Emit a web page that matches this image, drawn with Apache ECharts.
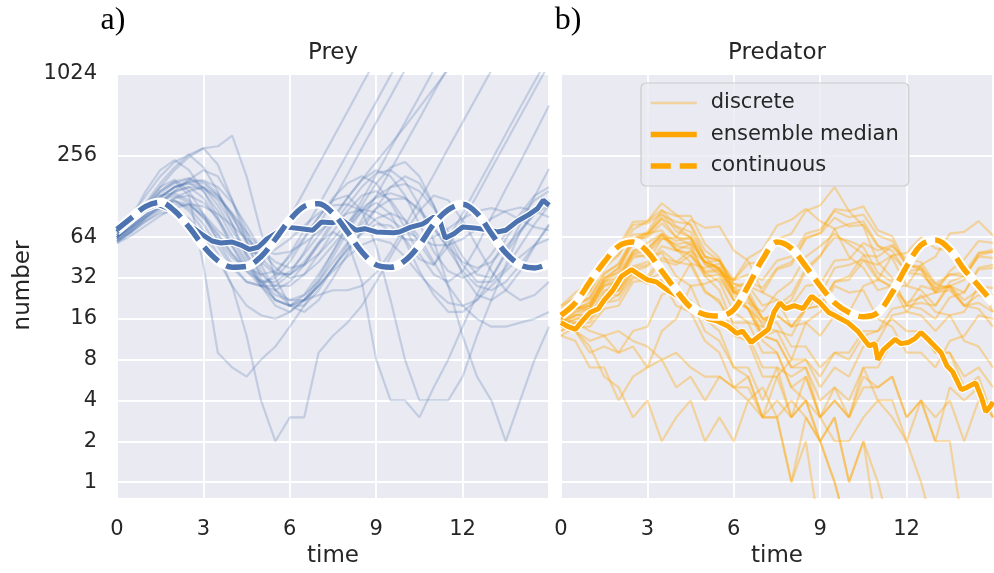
<!DOCTYPE html>
<html>
<head>
<meta charset="utf-8">
<script src="https://cdn.jsdelivr.net/npm/echarts@6/dist/echarts.min.js"></script>
<style>
  html, body { margin: 0; padding: 0; background: #fff; }
  #main { width: 994px; height: 573px; }
</style>
</head>
<body>
<div id="main"></div>
<script>
// sample times of the discrete runs and the continuous curves
const times = [0, 0.5, 1, 1.5, 2, 2.5, 3, 3.5, 4, 4.5, 5, 5.5, 6, 6.5, 7, 7.5,
  8, 8.5, 9, 9.5, 10, 10.5, 11, 11.5, 12, 12.5, 13, 13.5, 14, 14.5, 15]
const xTicks = [0, 3, 6, 9, 12]
const yTicks = [1, 2, 4, 8, 16, 32, 64, 256, 1024]

// prey, discrete runs
const preyRuns = [
  [64,82,112,150,170,140,95,60,40,30,28,34,48,72,110,170,265,410,640,1000,1560],
  [62,75,96,120,130,115,88,62,45,38,40,58,90,140,220,345,540,850,1320],
  [66,90,130,180,230,260,210,140,80,45,28,20,18,22,32,50,78,120,185,290,450,700,1100],
  [60,72,90,110,140,170,200,180,120,70,40,26,20,20,26,38,56,86,130,200,310,480,750,1160],
  [64,78,100,125,150,160,140,100,65,42,30,24,22,22,24,26,26,28,35,50,78,120,185,290,450,700,1090],
  [68,85,110,140,165,175,150,110,72,48,34,28,28,34,48,70,100,130,140,120,85,58,40,55,85,130,205,320,500,780,1220],
  [58,70,88,105,118,112,90,66,48,38,34,36,46,64,90,125,160,180,160,115,75,48,34,30,36,55,90,145,230,370,600],
  [62,74,92,110,120,100,72,48,28,12,4,2,3,3,9,12,15,20,30,46,70,100,130,120,85,55,36,26,22,24,30],
  [64,76,95,118,140,150,125,85,55,38,30,32,42,62,90,120,130,100,55,22,8,4,4,4,6,12,22,40,70,100,120],
  [66,80,100,125,150,165,160,130,90,60,42,34,34,42,58,70,60,30,8,4,4,3,5,8,14,24,40,62,90,120,140],
  [60,72,88,105,125,140,150,130,95,65,45,35,34,40,56,80,110,150,190,200,165,110,60,28,12,6,4,2,4,8,14],
  [64,80,105,140,165,130,40,9,7,6,8,10,14,20,30,46,70,100,115,95,60,36,24,18,18,22,32,48,70,95,110],
  [64,82,110,150,200,250,290,300,360,180,70,32,20,18,22,32,48,72,105,150,180,160,110,65,40,30,30,38,55,80,110],
  [66,85,115,160,210,260,290,220,120,60,32,22,20,24,34,50,75,110,160,210,230,180,110,60,34,24,22,26,36,55,80],
  [62,90,140,200,237,200,140,90,55,36,28,26,30,40,58,85,125,170,200,180,130,80,50,36,32,36,48,68,95,130,150],
  [70,88,110,130,135,120,95,72,58,50,48,52,62,78,96,110,112,100,84,70,62,60,64,74,88,100,105,98,86,76,72],
  [58,66,78,92,105,112,108,95,78,62,52,48,50,58,70,84,96,102,98,86,72,62,56,56,62,74,88,100,106,100,90],
  [64,78,96,118,138,150,146,125,96,70,52,42,38,40,48,62,82,105,125,135,125,100,74,54,42,38,42,54,72,96,120],
  [60,70,84,96,100,88,66,44,28,20,17,16,18,22,28,36,46,56,62,58,46,34,26,21,20,22,28,36,46,56,62],
  [64,80,102,128,150,160,150,120,80,48,30,22,20,22,28,38,52,70,88,96,86,64,42,28,20,16,14,14,15,16,18],
  [66,84,108,136,160,172,165,135,92,58,36,26,22,24,30,42,58,80,104,122,124,104,76,52,36,28,26,30,40,56,78],
  [64,76,92,110,118,105,80,55,38,30,28,28,34,50,78,120,185,290,450,700,1100],
  [62,74,90,108,124,130,115,88,60,40,28,22,20,22,28,38,52,68,80,78,62,44,40,62,96,150,235,370,580,900,1400],
  [68,84,104,128,150,165,168,150,115,78,52,38,32,34,42,56,76,100,128,150,158,140,105,70,46,34,32,50,80,128,205],
  [60,70,84,100,112,110,92,68,48,36,30,30,36,48,66,90,125,170,230,310,420,580,800,1100]
]

// predator, discrete runs (0.4 = went extinct, drawn down past the axis floor)
const predRuns = [
  [16,19,21,31,38,57,66,88,76,64,41,34,22,21,18,25,30,46,55,68,57,48,32,27,21,23,25,36,44,60,58],
  [14,16,17,25,32,50,58,68,52,42,26,21,15,15,14,20,24,38,47,64,60,54,35,30,20,21,20,30,33,46,45],
  [18,21,25,38,47,73,84,114,94,78,46,36,22,19,15,19,22,36,46,74,80,84,56,45,28,26,20,28,31,49,52],
  [12,11,7,7,4,6,7,13,16,28,29,32,22,19,12,13,12,19,24,38,40,44,31,28,18,17,13,17,18,28,27],
  [16,13,10,6,5,3,4,2,3,4,2,3,2,4,3,6,8,15,18,28,25,26,16,14,9,9,7,11,12,17,16],
  [20,23,26,40,48,67,68,72,52,47,33,34,31,45,52,78,86,104,84,74,46,38,26,28,28,40,46,68,70,84,66],
  [15,18,19,28,31,47,46,49,33,28,16,13,7,6,3,3,1,2,0.4],
  [13,15,15,21,24,36,39,51,42,40,25,22,12,11,6,6,3,4,2,1,0.4],
  [17,20,23,34,41,62,68,93,83,80,51,43,25,22,12,11,7,7,4,5,3,5,5,6,3,4,2,2,0.4],
  [14,17,19,30,36,60,68,88,64,56,33,26,14,12,7,7,3,4,2,3,1,2,0.4],
  [16,19,21,30,33,49,52,68,60,64,46,43,29,28,20,22,20,28,29,43,44,58,51,56,40,39,27,28,22,26,24],
  [19,23,26,43,51,79,81,96,71,64,40,37,25,28,25,37,40,62,69,103,100,108,72,65,40,37,25,28,25,37,38],
  [12,14,14,19,20,30,31,43,40,47,36,37,25,24,16,17,14,19,20,30,31,43,40,47,36,37,25,26,20,24,22],
  [15,17,17,23,26,39,42,62,64,86,75,77,51,43,25,22,14,15,12,17,18,28,31,47,49,64,53,51,33,28,18],
  [18,21,22,32,35,51,53,66,51,49,35,36,31,41,42,62,68,100,110,150,100,77,42,32,20,19,16,23,25,38,40],
  [14,13,9,10,9,13,14,24,27,41,38,41,27,24,14,13,8,8,5,7,6,10,11,17,18,24,18,17,11,10,7],
  [16,15,13,12,13,11,10,8,9,7,6,6,5,4,5,3,4,3,2,1,0.4],
  [20,25,30,47,55,83,84,102,77,70,46,43,31,34,31,43,46,68,73,100,90,94,66,60,40,38,29,34,33,47,50],
  [13,15,16,23,26,38,40,55,51,57,42,38,24,19,12,11,7,8,6,9,9,13,13,16,13,13,9,9,6,7,5],
  [17,19,20,28,30,45,48,63,57,59,42,38,26,23,16,17,14,19,20,30,33,47,46,55,44,42,29,27,20,21,18],
  [15,18,20,29,32,48,50,66,55,53,35,30,18,15,9,9,5,6,3,5,4,7,7,11,11,13,9,9,5,6,3],
  [18,21,23,35,40,62,64,81,64,62,42,38,27,30,27,38,42,64,68,89,77,79,55,51,35,34,27,34,35,49,50],
  [14,16,16,21,22,32,33,45,42,51,42,43,29,26,16,15,10,10,7,9,8,12,13,19,20,28,26,28,20,19,14],
  [16,19,20,32,38,62,70,100,92,92,57,45,26,19,11,9,5,4,3,2,2,3,4,3,2,1,0.4],
  [14,13,11,12,9,10,7,8,5,6,4,6,5,6,3,4,3,6,3,4,3,6,5,6,3,4,2,5,4,5,3],
  [17,19,19,26,26,35,31,35,24,22,13,11,7,7,4,7,6,7,3,4,3,7,4,4,2,4,3,4,2,4,3],
  [15,17,17,24,24,33,29,31,20,18,11,9,5,5,3,3,1,3,2,3,1,2,1,0.4]
]

// ensemble medians, [time, value]
const preyMedian = [[0,70],[0.5,86],[1,104],[1.4,112],[1.8,104],[2.2,90],[2.6,76],[3,66],[3.3,60],
  [3.6,58],[4,59],[4.3,56],[4.6,52],[4.9,54],[5.2,62],[5.6,70],[5.9,76],[6.4,74],[6.8,72],[7.1,83],
  [7.5,82],[7.8,86],[8.3,72],[8.6,74],[9,70],[9.6,69],[9.8,70],[10.2,76],[10.6,80],[11.0,90],[11.2,86],
  [11.4,63],[11.7,68],[12.0,76],[12.4,75],[12.8,73],[13.2,70],[13.5,72],[13.9,84],[14.3,94],[14.6,104],
  [14.8,120],[15,110]]
const predMedian = [[0,15],[0.25,14],[0.5,13.4],[0.75,15.5],[1,17.8],[1.3,19],[1.5,22],[1.8,26],[2.1,33],
  [2.45,37],[2.7,34],[3,31],[3.3,30],[3.7,26],[4,24],[4.4,21],[4.8,18],[5.1,16],[5.4,15.5],[5.8,14.1],
  [6.1,12.5],[6.3,13],[6.6,10.7],[6.9,12],[7.2,13.4],[7.4,18],[7.6,21],[7.8,19],[8.1,20],[8.4,19],
  [8.7,23.5],[9,21],[9.3,17.8],[9.6,16.5],[9.96,15],[10.3,13],[10.7,10.1],[10.9,10.5],[11.0,8],
  [11.2,9.5],[11.6,11.3],[11.8,10.5],[12.05,10.7],[12.3,11.5],[12.5,12.7],[12.8,11],[13.2,9],[13.4,7.2],
  [13.6,6.5],[13.9,4.8],[14.1,5],[14.4,5.4],[14.6,4.2],[14.75,3.3],[14.9,3.6],[15,3.9]]

// continuous model, at the sample times
const preyContinuous = [73,89,108,116,100,76,55,43,38.5,39,46,62,86,108,113,96,70,50,40,38.5,
  43,56,80,102,112,96,68,49,40,38,41]
const predContinuous = [17,21,30,42,55,59,50,36,26,19.5,17.2,16.8,18.7,28,44,59,53,39,28,21,
  17.8,16.6,17.8,25,39,56,61,52,37,28,21]

const BLUE = '#4C72B0'
const ORANGE = '#FFA500'
const INK = '#262626'
const FONT = 'DejaVu Sans'
const NO_SYMBOL = { color: 'rgba(0,0,0,0)', borderWidth: 0 }

const pairs = vals => vals.map((v, i) => [times[i], v])

function panel(idx, runs, median, cont, color, runAlpha, names, showLabels) {
  const base = { type: 'line', xAxisIndex: idx, yAxisIndex: idx, symbol: 'none', silent: true }
  const out = []
  // horizontal gridlines (and left tick labels) at the custom log2 ticks
  out.push({
    ...base, name: '_grid' + idx, data: [], clip: false,
    markLine: {
      silent: true, z: 1, symbol: ['none', 'none'],
      lineStyle: { color: '#fff', width: 1.8, type: 'solid' },
      label: { show: showLabels, position: 'start', distance: 20, color: INK, fontSize: 21, fontFamily: FONT },
      data: yTicks.map(v => ({ yAxis: v }))
    }
  })
  runs.forEach(r => out.push({
    ...base, name: names[0], data: pairs(r),
    itemStyle: { color }, lineStyle: { color, width: 2.2, opacity: runAlpha }
  }))
  out.push({ ...base, name: '_medEdge' + idx, data: median, lineStyle: { color: '#fff', width: 7.5 } })
  out.push({ ...base, name: names[1], data: median, itemStyle: { color }, lineStyle: { color, width: 5 } })
  out.push({ ...base, name: '_contEdge' + idx, data: pairs(cont), smooth: 0.35, lineStyle: { color: '#fff', width: 9.5 } })
  out.push({
    ...base, name: names[2], data: pairs(cont), smooth: 0.35,
    itemStyle: { color }, lineStyle: { color, width: 5.5, type: [20, 9] }
  })
  return out
}

const xAxisBase = {
  type: 'value', min: 0, max: 15, interval: 3,
  name: 'time', nameLocation: 'middle', nameGap: 47,
  nameTextStyle: { color: INK, fontSize: 23, fontFamily: FONT },
  axisLine: { show: false }, axisTick: { show: false },
  axisLabel: { color: INK, fontSize: 21, fontFamily: FONT, margin: 21, showMaxLabel: false },
  splitLine: { show: true, lineStyle: { color: '#fff', width: 1.8 } }
}
const yAxisBase = {
  type: 'log', logBase: 2, min: 0.763, max: 1041.5,
  axisLine: { show: false }, axisTick: { show: false },
  axisLabel: { show: false }, splitLine: { show: false }
}
const gridBase = { top: 73, height: 426, width: 432, show: true, backgroundColor: '#EAEAF2', borderWidth: 0 }

const chart = echarts.init(document.getElementById('main'), null, { renderer: 'canvas' })
chart.setOption({
  animation: false,
  backgroundColor: '#fff',
  grid: [{ ...gridBase, left: 117 }, { ...gridBase, left: 561 }],
  xAxis: [{ ...xAxisBase, gridIndex: 0 }, { ...xAxisBase, gridIndex: 1 }],
  yAxis: [
    { ...yAxisBase, gridIndex: 0, name: 'number', nameLocation: 'middle', nameGap: 82,
      nameTextStyle: { color: INK, fontSize: 23, fontFamily: FONT } },
    { ...yAxisBase, gridIndex: 1 }
  ],
  legend: {
    left: 641, top: 83, orient: 'vertical',
    itemWidth: 46, itemHeight: 14, itemGap: 7.5,
    padding: [8, 10, 8, 7],
    backgroundColor: 'rgba(234,234,242,0.8)',
    borderColor: '#cccccc', borderWidth: 1.2, borderRadius: 5,
    selectedMode: false,
    textStyle: { color: INK, fontSize: 21, fontFamily: FONT, lineHeight: 24, padding: [0, 0, 0, 9] },
    data: [
      { name: 'discrete', itemStyle: NO_SYMBOL, lineStyle: { color: ORANGE, width: 2.5, opacity: 0.35 } },
      { name: 'ensemble median', itemStyle: NO_SYMBOL, lineStyle: { color: ORANGE, width: 5.5 } },
      { name: 'continuous', itemStyle: NO_SYMBOL, lineStyle: { color: ORANGE, width: 5.5, type: [20, 9] } }
    ]
  },
  graphic: [
    { type: 'text', x: 113, y: 21, style: { text: 'a)', font: '32px "Liberation Serif"', fill: '#000', align: 'center', verticalAlign: 'middle' } },
    { type: 'text', x: 568, y: 21, style: { text: 'b)', font: '32px "Liberation Serif"', fill: '#000', align: 'center', verticalAlign: 'middle' } },
    { type: 'text', x: 333, y: 53, style: { text: 'Prey', font: '23px "DejaVu Sans"', fill: INK, align: 'center', verticalAlign: 'middle' } },
    { type: 'text', x: 777, y: 53, style: { text: 'Predator', font: '23px "DejaVu Sans"', fill: INK, align: 'center', verticalAlign: 'middle' } }
  ],
  series: [
    ...panel(0, preyRuns, preyMedian, preyContinuous, BLUE, 0.25,
      ['prey discrete', 'prey ensemble median', 'prey continuous'], true),
    ...panel(1, predRuns, predMedian, predContinuous, ORANGE, 0.35,
      ['discrete', 'ensemble median', 'continuous'], false)
  ]
})
</script>
</body>
</html>
